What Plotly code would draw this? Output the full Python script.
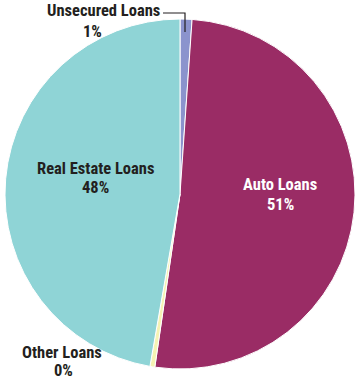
import plotly.graph_objects as go

labels = ["Unsecured Loans", "Auto Loans", "Other Loans", "Real Estate Loans"]
values = [1.1, 51.2, 0.45, 47.25]
colors = ["#8b93cd", "#9a2c65", "#f5f3b3", "#8fd4d6"]
pct_text = ["1%", "51%", "0%", "48%"]

FONT = "Roboto Condensed, Arial Narrow, sans-serif"
W, H = 355, 382

fig = go.Figure(go.Pie(
    labels=labels, values=values, sort=False, direction="clockwise", rotation=0,
    marker=dict(colors=colors, line=dict(color="#ffffff", width=1)),
    textinfo="none",
    domain=dict(x=[5/W, 1.0], y=[12/H, 364/H]),
    showlegend=False, hoverinfo="label+percent",
))

def px(x, y):
    return x / W, 1 - y / H

def label(x, y, text, color="#231f20"):
    xx, yy = px(x, y)
    fig.add_annotation(x=xx, y=yy, xref="paper", yref="paper", text=f"<b>{text}</b>",
                       showarrow=False, xanchor="center", yanchor="middle",
                       font=dict(family=FONT, size=16.5, color=color))

label(103, 11, labels[0])
label(92, 31, pct_text[0])
label(280, 185, labels[1], "#ffffff")
label(280, 204, pct_text[1], "#ffffff")
label(62, 352, labels[2])
label(63, 370, pct_text[2])
label(96, 168, labels[3])
label(96, 187, pct_text[3])

x0, y0 = px(163, 13)
x1, y1 = px(185, 13)
x2, y2 = px(185, 32)
fig.add_shape(type="path", xref="paper", yref="paper",
              path=f"M {x0} {y0} L {x1} {y1} L {x2} {y2}",
              line=dict(color="#231f20", width=1.2))

fig.update_layout(width=W, height=H, margin=dict(l=0, r=0, t=0, b=0),
                  paper_bgcolor="white", plot_bgcolor="white")
fig.write_html("out.html")
